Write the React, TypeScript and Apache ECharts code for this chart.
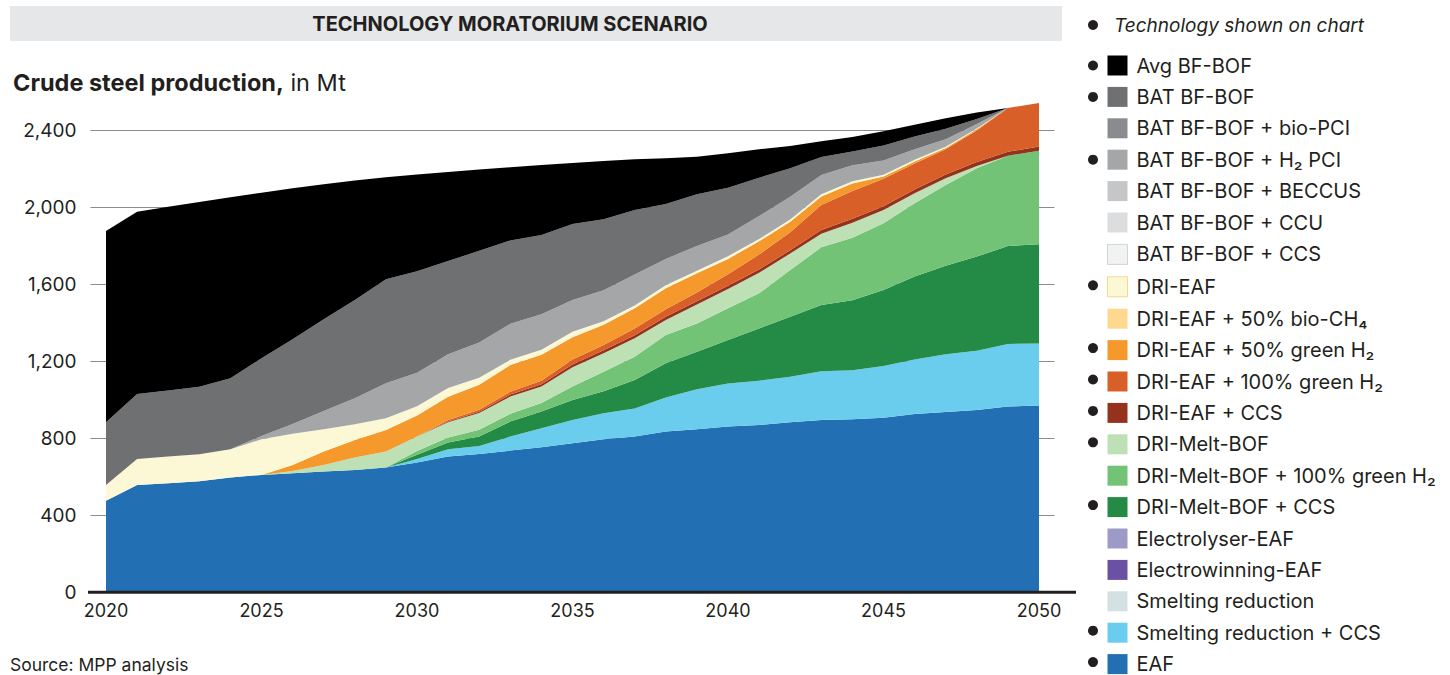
import React, { useEffect, useRef } from 'react';
import * as echarts from 'echarts';

const FONT = 'Inter, "Noto Sans", sans-serif';
const INK = '#231f20';

const years = [
  '2020', '2021', '2022', '2023', '2024', '2025', '2026', '2027', '2028', '2029',
  '2030', '2031', '2032', '2033', '2034', '2035', '2036', '2037', '2038', '2039',
  '2040', '2041', '2042', '2043', '2044', '2045', '2046', '2047', '2048', '2049', '2050',
];

const eaf = [476, 558, 566, 577, 596, 610, 618, 627, 635, 648, 674, 705, 719, 736, 753, 774, 795, 809, 835, 847, 861, 869, 883, 895, 899, 907, 926, 937, 947, 965, 971];
const smeltingCcs = [0, 0, 0, 0, 0, 0, 0, 0, 0, 0, 18, 38, 41, 73, 99, 121, 135, 146, 177, 208, 224, 230, 237, 253, 254, 269, 284, 299, 308, 325, 322];
const meltBofCcs = [0, 0, 0, 0, 0, 0, 0, 0, 0, 0, 22, 35, 50, 78, 87, 104, 115, 148, 178, 195, 226, 272, 312, 345, 364, 395, 430, 461, 489, 509, 515];
const meltBofGreen = [0, 0, 0, 0, 0, 0, 0, 0, 0, 0, 20, 26, 34, 40, 45, 70, 101, 121, 147, 147, 164, 182, 242, 299, 325, 346, 381, 419, 459, 469, 486];
const meltBof = [0, 0, 0, 0, 0, 0, 12, 34, 65, 83, 75, 80, 88, 90, 85, 100, 96, 96, 78, 98, 100, 107, 86, 70, 78, 69, 52, 35, 12, 0, 0];
const driCcs = [0, 0, 0, 0, 0, 0, 0, 0, 0, 0, 0, 3, 6, 10, 12, 15, 15, 15, 17, 17, 17, 17, 17, 20, 20, 20, 20, 20, 20, 20, 22];
const dri100Green = [0, 0, 0, 0, 0, 0, 0, 0, 0, 0, 0, 8, 10, 15, 18, 26, 28, 35, 38, 45, 60, 78, 93, 130, 145, 142, 135, 130, 164, 228, 226];
const dri50Green = [0, 0, 0, 0, 0, 0, 31, 70, 91, 112, 110, 121, 130, 139, 135, 115, 105, 105, 110, 100, 80, 68, 55, 44, 38, 12, 10, 7, 6, 0, 0];
const driEaf = [82, 135, 139, 140, 147, 185, 162, 116, 82, 61, 48, 45, 36, 27, 26, 28, 18, 15, 15, 14, 14, 12, 11, 12, 12, 9, 9, 7, 5, 0, 0];
const batH2Pci = [0, 0, 0, 0, 0, 17, 51, 95, 135, 182, 173, 175, 184, 187, 184, 165, 161, 161, 137, 128, 113, 120, 119, 100, 83, 74, 55, 38, 23, 0, 0];
const batBfBof = [325, 337, 343, 351, 369, 404, 440, 476, 511, 540, 528, 485, 476, 433, 412, 395, 369, 335, 285, 269, 242, 199, 148, 93, 72, 78, 66, 55, 26, 0, 0];
const avgBfBof = [994, 947, 955, 960, 940, 860, 785, 702, 620, 530, 502, 463, 422, 380, 364, 317, 303, 263, 238, 195, 180, 147, 116, 82, 75, 74, 61, 54, 34, 0, 0];
const notShown: number[] = [];

// Legend order, top to bottom
const technologies = [
  { name: 'Avg BF-BOF', color: '#000000', data: avgBfBof, dot: true },
  { name: 'BAT BF-BOF', color: '#6f7072', data: batBfBof, dot: true },
  { name: 'BAT BF-BOF + bio-PCI', color: '#8a8b8e', data: notShown, dot: false },
  { name: 'BAT BF-BOF + H₂ PCI', color: '#a5a6a8', data: batH2Pci, dot: true },
  { name: 'BAT BF-BOF + BECCUS', color: '#c5c6c8', data: notShown, dot: false },
  { name: 'BAT BF-BOF + CCU', color: '#dcdddf', data: notShown, dot: false },
  { name: 'BAT BF-BOF + CCS', color: '#f1f2f2', data: notShown, dot: false, border: '#d1d3d4' },
  { name: 'DRI-EAF', color: '#fcf8d6', data: driEaf, dot: true, border: '#fbd68f' },
  { name: 'DRI-EAF + 50% bio-CH₄', color: '#fed88f', data: notShown, dot: false },
  { name: 'DRI-EAF + 50% green H₂', color: '#f6992d', data: dri50Green, dot: true },
  { name: 'DRI-EAF + 100% green H₂', color: '#d85f27', data: dri100Green, dot: true },
  { name: 'DRI-EAF + CCS', color: '#94321e', data: driCcs, dot: true },
  { name: 'DRI-Melt-BOF', color: '#bde0b5', data: meltBof, dot: true },
  { name: 'DRI-Melt-BOF + 100% green H₂', color: '#73c377', data: meltBofGreen, dot: false },
  { name: 'DRI-Melt-BOF + CCS', color: '#238b45', data: meltBofCcs, dot: true },
  { name: 'Electrolyser-EAF', color: '#9e9ac8', data: notShown, dot: false },
  { name: 'Electrowinning-EAF', color: '#6a51a3', data: notShown, dot: false },
  { name: 'Smelting reduction', color: '#d3e1e3', data: notShown, dot: false },
  { name: 'Smelting reduction + CCS', color: '#6bcdee', data: smeltingCcs, dot: true },
  { name: 'EAF', color: '#2270b3', data: eaf, dot: true },
];

const LEG_TOP = 55.5;
const LEG_STEP = 31.4;

export default function App() {
  const ref = useRef<HTMLDivElement>(null);

  useEffect(() => {
    if (!ref.current) return;
    const chart = echarts.init(ref.current, undefined, { renderer: 'svg' });

    const stackOrder = [...technologies].reverse();
    const series = stackOrder.map((t) => ({
      name: t.name,
      type: 'line',
      stack: 'total',
      data: t.data,
      color: t.color,
      itemStyle: { color: t.color, borderWidth: 0 },
      lineStyle: { width: 0, color: t.color },
      areaStyle: { color: t.color, opacity: 1 },
      symbol: 'none',
      showSymbol: false,
      clip: false,
      silent: true,
      emphasis: { disabled: true },
    }));

    const legendData = technologies.map((t) =>
      t.border
        ? { name: t.name, itemStyle: { color: t.color, borderColor: t.border, borderWidth: 1 } }
        : { name: t.name, itemStyle: { color: t.color, borderWidth: 0 } }
    );

    const bullets = technologies
      .map((t, i) => ({ t, i }))
      .filter((o) => o.t.dot)
      .map((o) => ({
        type: 'circle',
        shape: { cx: 1093, cy: LEG_TOP + 10 + o.i * LEG_STEP, r: 5 },
        style: { fill: INK },
      }));

    chart.setOption({
      animation: false,
      textStyle: { fontFamily: FONT },
      grid: { left: 90.45, right: 1450 - 1054.55, top: 130.3, bottom: 675 - 592.3, containLabel: false },
      xAxis: {
        type: 'category',
        data: years,
        boundaryGap: true,
        axisLine: { show: false },
        axisTick: { show: false },
        splitLine: { show: false },
        axisLabel: { interval: 4, fontSize: 18, color: INK, margin: 9, fontFamily: FONT },
      },
      yAxis: {
        type: 'value',
        min: 0,
        max: 2400,
        interval: 400,
        z: 3,
        axisLine: { show: false },
        axisTick: { show: false },
        axisLabel: {
          fontSize: 19,
          color: INK,
          margin: 14,
          fontFamily: FONT,
          formatter: (v: number) => v.toLocaleString('en-US'),
        },
        splitLine: { lineStyle: { color: 'rgba(0,0,0,0.45)', width: 1 } },
      },
      legend: {
        orient: 'vertical',
        left: 1107,
        top: LEG_TOP,
        padding: 0,
        icon: 'rect',
        itemWidth: 20,
        itemHeight: 20,
        itemGap: LEG_STEP - 20,
        selectedMode: false,
        data: legendData,
        textStyle: { fontSize: 20, color: INK, fontFamily: FONT, lineHeight: 20, padding: [0, 0, 0, 4] },
      },
      series,
      graphic: [
        { type: 'rect', shape: { x: 10, y: 6, width: 1052, height: 35 }, style: { fill: '#e6e7e8' }, z: 1 },
        {
          type: 'text',
          x: 510,
          y: 24,
          z: 2,
          style: {
            text: 'TECHNOLOGY MORATORIUM SCENARIO',
            font: `bold 20px ${FONT}`,
            fill: INK,
            textAlign: 'center',
            textVerticalAlign: 'middle',
          },
        },
        {
          type: 'text',
          x: 13,
          y: 82,
          style: {
            text: '{b|Crude steel production,}{n| in Mt}',
            textVerticalAlign: 'middle',
            rich: {
              b: { fontFamily: FONT, fontWeight: 'bold', fontSize: 23.5, fill: INK },
              n: { fontFamily: FONT, fontSize: 23.5, fill: INK },
            },
          },
        },
        {
          type: 'text',
          x: 10,
          y: 664,
          style: { text: 'Source: MPP analysis', font: `17.5px ${FONT}`, fill: INK, textVerticalAlign: 'middle' },
        },
        {
          type: 'line',
          z: 10,
          shape: { x1: 88, y1: 592.3, x2: 1076, y2: 592.3 },
          style: { stroke: INK, lineWidth: 3 },
        },
        { type: 'circle', shape: { cx: 1093, cy: 25, r: 5 }, style: { fill: INK } },
        {
          type: 'text',
          x: 1114,
          y: 25,
          style: {
            text: 'Technology shown on chart',
            font: `italic 19px ${FONT}`,
            fill: INK,
            textVerticalAlign: 'middle',
          },
        },
        ...bullets,
      ],
    });

    return () => chart.dispose();
  }, []);

  return <div ref={ref} style={{ position: 'absolute', left: 0, top: 0, width: 1450, height: 675 }} />;
}
